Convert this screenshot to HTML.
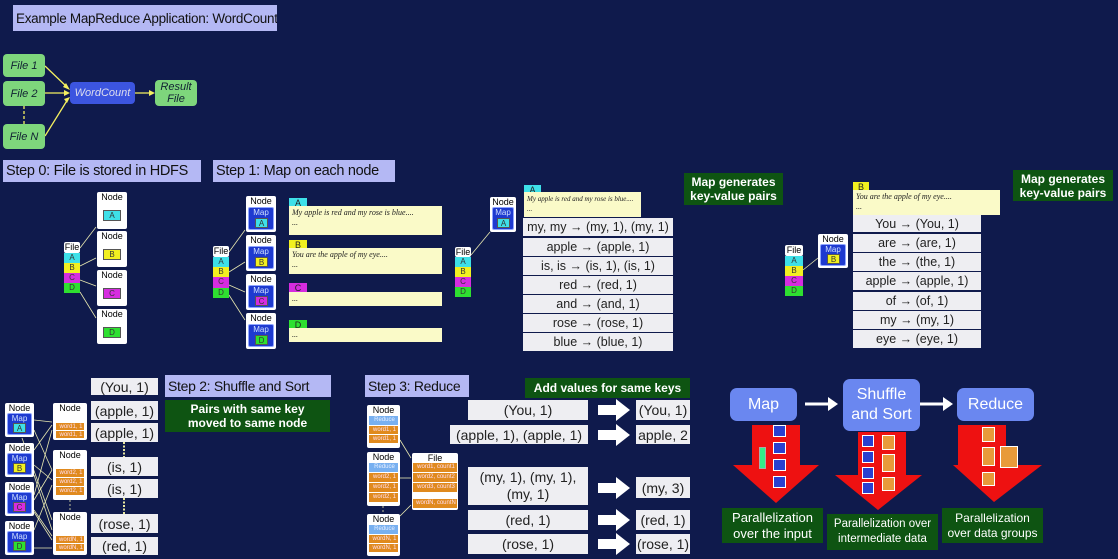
<!DOCTYPE html>
<html><head><meta charset="utf-8">
<style>
body{margin:0;width:1118px;height:559px;background:#0f1a4c;position:relative;overflow:hidden;font-family:"Liberation Sans",sans-serif}
div{position:absolute;box-sizing:border-box}
.lab{background:#b4b8f4;color:#111;font-size:15px;display:flex;align-items:center;padding-left:3px;white-space:nowrap;overflow:hidden;letter-spacing:-0.3px}
.gf{background:#7ed67c;border-radius:4px;font-style:italic;font-size:11px;color:#123;display:flex;align-items:center;justify-content:center;text-align:center;line-height:12px}
.node{background:#fff;border-radius:2px;font-size:9px;text-align:center;color:#000;line-height:10px}
.mapb{background:#1e3ad0;border-radius:2px;color:#cfe0ff;font-size:8px;text-align:center;line-height:9px;border:1px solid #8fa6ff}
.sq{border:1px solid #555;font-size:8px;text-align:center;line-height:10px;color:#333}
.row{background:#eeeef2;color:#222;font-size:12.5px;display:flex;align-items:center;justify-content:center;white-space:nowrap}
.note{background:#fafac8;font-family:"Liberation Serif",serif;font-style:italic;font-size:8px;color:#222;padding:2px 3px;line-height:10px;white-space:nowrap;overflow:hidden}
.tag{font-size:9px;text-align:center;line-height:11px;color:#222}
.green{background:#0e5412;color:#fff;font-weight:bold;font-size:12px;text-align:center;line-height:14px;display:flex;align-items:center;justify-content:center}
.gl{background:#0e5412;color:#fff;font-size:13px;text-align:center;line-height:16px;display:flex;align-items:center;justify-content:center}
.or{background:#e08a1e;color:#fde;font-size:6px;line-height:8px;border-bottom:1px solid #fff;padding-left:2px;white-space:nowrap;overflow:hidden}
.blue{background:#6a87f0;color:#fff;border-radius:7px;font-size:16px;display:flex;align-items:center;justify-content:center;text-align:center;line-height:20px}
.th{background:#fff;border:1px solid #aaa}
.tb{background:#2a40d0;border:1px solid #fff}
.to{background:#e89a3a;border:1px solid #fff}
.A{background:#3ee0e8}.B{background:#f2f020}.C{background:#d62ce0}.D{background:#2ee030}
</style></head><body>
<svg width="1118" height="559" style="position:absolute;left:0;top:0" >
<g stroke="#f4f060" stroke-width="1.3" fill="none">
<line x1="45" y1="66" x2="68" y2="88"/><line x1="45" y1="93" x2="68" y2="93"/><line x1="45" y1="136" x2="68" y2="99"/><line x1="135" y1="93" x2="153" y2="93"/>
<line x1="24" y1="106" x2="24" y2="124" stroke-dasharray="3,2"/>
</g>
<g fill="#f4f060"><polygon points="70,90 63,87 66,83"/><polygon points="70,93 64,90 64,96"/><polygon points="70,97 64,99 67,103"/><polygon points="155,93 149,90 149,96"/></g>
<g stroke="#e8e8b0" stroke-width="0.8" fill="none">
<line x1="80" y1="248" x2="96" y2="227"/><line x1="80" y1="266" x2="96" y2="258"/><line x1="80" y1="280" x2="96" y2="286"/><line x1="80" y1="292" x2="96" y2="318"/>
<line x1="229" y1="252" x2="245" y2="230"/><line x1="229" y1="272" x2="245" y2="262"/><line x1="229" y1="285" x2="245" y2="292"/><line x1="229" y1="295" x2="245" y2="320"/>
<line x1="471" y1="255" x2="490" y2="232"/><line x1="803" y1="270" x2="818" y2="258"/>
<line x1="34" y1="420" x2="52" y2="422"/><line x1="34" y1="510" x2="52" y2="536"/>
<line x1="34" y1="430" x2="52" y2="470"/><line x1="34" y1="450" x2="52" y2="425"/><line x1="34" y1="465" x2="52" y2="480"/><line x1="34" y1="475" x2="52" y2="530"/>
<line x1="34" y1="495" x2="52" y2="430"/><line x1="34" y1="500" x2="52" y2="470"/><line x1="34" y1="512" x2="52" y2="540"/><line x1="34" y1="530" x2="52" y2="485"/>
<line x1="34" y1="548" x2="52" y2="548"/><line x1="22" y1="438" x2="52" y2="520"/>
<line x1="400" y1="440" x2="411" y2="458"/><line x1="400" y1="478" x2="411" y2="478"/><line x1="400" y1="516" x2="411" y2="505"/>
<line x1="124" y1="442" x2="124" y2="457" stroke="#e8e8a0" stroke-width="2" stroke-dasharray="2,1.5"/>
<line x1="124" y1="498" x2="124" y2="514" stroke="#e8e8a0" stroke-width="2" stroke-dasharray="2,1.5"/>
<line x1="70" y1="500" x2="70" y2="512" stroke-dasharray="2,2"/>
<line x1="383" y1="506" x2="383" y2="514" stroke-dasharray="2,2"/>
</g>
<g stroke="#fff" stroke-width="3" fill="none"><line x1="805" y1="404" x2="830" y2="404"/><line x1="920" y1="404" x2="945" y2="404"/></g>
<g fill="#fff"><polygon points="838,404 828,397 828,411"/><polygon points="953,404 943,397 943,411"/>
<polygon points="598,405 616,405 616,399 630,410 616,421 616,415 598,415"/>
<polygon points="598,430 616,430 616,424 630,435 616,446 616,440 598,440"/>
<polygon points="598,483 616,483 616,477 630,488 616,499 616,493 598,493"/>
<polygon points="598,515 616,515 616,509 630,520 616,531 616,525 598,525"/>
<polygon points="598,539 616,539 616,533 630,544 616,555 616,549 598,549"/></g>
<g fill="#ee1111"><polygon points="752,425 800,425 800,465 819,465 776,503 733,465 752,465"/>
<polygon points="858,432 906,432 906,475 922,475 878,510 835,475 858,475"/>
<polygon points="958,425 1006,425 1006,465 1042,465 994,502 953,465 958,465"/></g>
</svg>

<!-- thumbnails in red arrows -->
<div class="tb" style="left:773px;top:425px;width:13px;height:12px"></div>
<div class="tb" style="left:773px;top:442px;width:13px;height:12px"></div>
<div class="tb" style="left:773px;top:459px;width:13px;height:12px"></div>
<div class="tb" style="left:773px;top:476px;width:13px;height:12px"></div>
<div class="th" style="left:759px;top:447px;width:7px;height:22px;background:#3e8"></div>
<div class="tb" style="left:862px;top:435px;width:12px;height:12px"></div>
<div class="tb" style="left:862px;top:451px;width:12px;height:12px"></div>
<div class="tb" style="left:862px;top:467px;width:12px;height:12px"></div>
<div class="tb" style="left:862px;top:482px;width:12px;height:12px"></div>
<div class="to" style="left:882px;top:435px;width:13px;height:15px"></div>
<div class="to" style="left:882px;top:454px;width:13px;height:18px"></div>
<div class="to" style="left:882px;top:477px;width:13px;height:14px"></div>
<div class="to" style="left:982px;top:427px;width:13px;height:15px"></div>
<div class="to" style="left:982px;top:447px;width:13px;height:19px"></div>
<div class="to" style="left:982px;top:472px;width:13px;height:14px"></div>
<div class="to" style="left:1000px;top:446px;width:18px;height:22px"></div>

<div class="lab" style="left:13px;top:5px;width:264px;height:26px;font-size:13.5px">Example MapReduce Application: WordCount</div>
<div class="gf" style="left:3px;top:54px;width:42px;height:23px">File 1</div>
<div class="gf" style="left:3px;top:81px;width:42px;height:25px">File 2</div>
<div class="gf" style="left:3px;top:124px;width:42px;height:25px">File N</div>
<div class="gf" style="left:70px;top:82px;width:65px;height:22px;background:#3c55e0;color:#dde">WordCount</div>
<div class="gf" style="left:155px;top:80px;width:42px;height:26px">Result<br>File</div>

<div class="lab" style="left:3px;top:160px;width:198px;height:22px;font-size:14.5px">Step 0: File is stored in HDFS</div>
<div class="lab" style="left:213px;top:160px;width:182px;height:22px;font-size:14.5px">Step 1: Map on each node</div>

<!-- step0 -->
<div class="node" style="left:64px;top:242px;width:16px;height:11px">File</div>
<div class="sq A" style="left:64px;top:253px;width:16px;height:10px;border:0">A</div>
<div class="sq B" style="left:64px;top:263px;width:16px;height:10px;border:0">B</div>
<div class="sq C" style="left:64px;top:273px;width:16px;height:10px;border:0">C</div>
<div class="sq D" style="left:64px;top:283px;width:16px;height:10px;border:0">D</div>
<div class="node" style="left:97px;top:192px;width:30px;height:37px">Node<div class="sq A" style="left:6px;top:18px;width:18px;height:11px">A</div></div>
<div class="node" style="left:97px;top:231px;width:30px;height:36px">Node<div class="sq B" style="left:6px;top:18px;width:18px;height:11px">B</div></div>
<div class="node" style="left:97px;top:270px;width:30px;height:36px">Node<div class="sq C" style="left:6px;top:18px;width:18px;height:11px">C</div></div>
<div class="node" style="left:97px;top:309px;width:30px;height:35px">Node<div class="sq D" style="left:6px;top:18px;width:18px;height:11px">D</div></div>

<!-- step1 -->
<div class="node" style="left:213px;top:246px;width:16px;height:11px">File</div>
<div class="sq A" style="left:213px;top:257px;width:16px;height:10px;border:0">A</div>
<div class="sq B" style="left:213px;top:267px;width:16px;height:10px;border:0">B</div>
<div class="sq C" style="left:213px;top:277px;width:16px;height:11px;border:0">C</div>
<div class="sq D" style="left:213px;top:288px;width:16px;height:10px;border:0">D</div>
<div class="node" style="left:246px;top:196px;width:30px;height:36px">Node<div class="mapb" style="left:2px;top:11px;width:26px;height:23px">Map<div class="sq A" style="left:6px;top:10px;width:13px;height:10px">A</div></div></div>
<div class="node" style="left:246px;top:235px;width:30px;height:36px">Node<div class="mapb" style="left:2px;top:11px;width:26px;height:23px">Map<div class="sq B" style="left:6px;top:10px;width:13px;height:10px">B</div></div></div>
<div class="node" style="left:246px;top:274px;width:30px;height:36px">Node<div class="mapb" style="left:2px;top:11px;width:26px;height:23px">Map<div class="sq C" style="left:6px;top:10px;width:13px;height:10px">C</div></div></div>
<div class="node" style="left:246px;top:313px;width:30px;height:36px">Node<div class="mapb" style="left:2px;top:11px;width:26px;height:23px">Map<div class="sq D" style="left:6px;top:10px;width:13px;height:10px">D</div></div></div>
<div class="tag A" style="left:289px;top:198px;width:18px;height:11px">A</div>
<div class="note" style="left:289px;top:206px;width:153px;height:29px">My apple is red and my rose is blue....<br>...</div>
<div class="tag B" style="left:289px;top:240px;width:18px;height:11px">B</div>
<div class="note" style="left:289px;top:248px;width:153px;height:26px">You are the apple of my eye....<br>...</div>
<div class="tag C" style="left:289px;top:283px;width:18px;height:10px">C</div>
<div class="note" style="left:289px;top:292px;width:153px;height:14px">...</div>
<div class="tag D" style="left:289px;top:320px;width:18px;height:10px">D</div>
<div class="note" style="left:289px;top:328px;width:153px;height:14px">...</div>

<!-- middle -->
<div class="node" style="left:455px;top:247px;width:16px;height:10px">File</div>
<div class="sq A" style="left:455px;top:257px;width:16px;height:10px;border:0">A</div>
<div class="sq B" style="left:455px;top:267px;width:16px;height:10px;border:0">B</div>
<div class="sq C" style="left:455px;top:277px;width:16px;height:10px;border:0">C</div>
<div class="sq D" style="left:455px;top:287px;width:16px;height:10px;border:0">D</div>
<div class="node" style="left:490px;top:197px;width:26px;height:35px">Node<div class="mapb" style="left:2px;top:10px;width:22px;height:23px">Map<div class="sq A" style="left:4px;top:10px;width:13px;height:10px">A</div></div></div>
<div class="tag A" style="left:524px;top:185px;width:17px;height:11px">A</div>
<div class="note" style="left:524px;top:192px;width:117px;height:25px;font-size:7px">My apple is red and my rose is blue....<br>...</div>
<div class="row" style="left:523px;top:218px;width:150px;height:18px">my, my → (my, 1), (my, 1)</div>
<div class="row" style="left:523px;top:238px;width:150px;height:18px">apple → (apple, 1)</div>
<div class="row" style="left:523px;top:257px;width:150px;height:18px">is, is → (is, 1), (is, 1)</div>
<div class="row" style="left:523px;top:276px;width:150px;height:18px">red → (red, 1)</div>
<div class="row" style="left:523px;top:295px;width:150px;height:18px">and → (and, 1)</div>
<div class="row" style="left:523px;top:314px;width:150px;height:18px">rose → (rose, 1)</div>
<div class="row" style="left:523px;top:333px;width:150px;height:18px">blue → (blue, 1)</div>
<div class="green" style="left:684px;top:173px;width:99px;height:32px">Map generates<br>key-value pairs</div>

<!-- right -->
<div class="node" style="left:785px;top:245px;width:18px;height:11px">File</div>
<div class="sq A" style="left:785px;top:256px;width:18px;height:10px;border:0">A</div>
<div class="sq B" style="left:785px;top:266px;width:18px;height:10px;border:0">B</div>
<div class="sq C" style="left:785px;top:276px;width:18px;height:10px;border:0">C</div>
<div class="sq D" style="left:785px;top:286px;width:18px;height:10px;border:0">D</div>
<div class="node" style="left:818px;top:234px;width:30px;height:34px">Node<div class="mapb" style="left:2px;top:10px;width:26px;height:22px">Map<div class="sq B" style="left:6px;top:9px;width:13px;height:10px">B</div></div></div>
<div class="tag B" style="left:853px;top:182px;width:16px;height:11px">B</div>
<div class="note" style="left:853px;top:190px;width:147px;height:25px">You are the apple of my eye....<br>...</div>
<div class="row" style="left:853px;top:215px;width:128px;height:17px">You → (You, 1)</div>
<div class="row" style="left:853px;top:234px;width:128px;height:18px">are → (are, 1)</div>
<div class="row" style="left:853px;top:253px;width:128px;height:18px">the → (the, 1)</div>
<div class="row" style="left:853px;top:272px;width:128px;height:18px">apple → (apple, 1)</div>
<div class="row" style="left:853px;top:292px;width:128px;height:18px">of → (of, 1)</div>
<div class="row" style="left:853px;top:311px;width:128px;height:18px">my → (my, 1)</div>
<div class="row" style="left:853px;top:330px;width:128px;height:18px">eye → (eye, 1)</div>
<div class="green" style="left:1013px;top:170px;width:100px;height:31px">Map generates<br>key-value pairs</div>

<!-- step2 -->
<div class="lab" style="left:165px;top:375px;width:166px;height:22px;font-size:14px">Step 2: Shuffle and Sort</div>
<div class="green" style="left:165px;top:400px;width:165px;height:32px">Pairs with same key<br>moved to same node</div>
<div class="node" style="left:5px;top:403px;width:29px;height:34px">Node<div class="mapb" style="left:2px;top:10px;width:25px;height:22px">Map<div class="sq A" style="left:5px;top:9px;width:13px;height:10px">A</div></div></div>
<div class="node" style="left:5px;top:443px;width:29px;height:34px">Node<div class="mapb" style="left:2px;top:10px;width:25px;height:22px">Map<div class="sq B" style="left:5px;top:9px;width:13px;height:10px">B</div></div></div>
<div class="node" style="left:5px;top:482px;width:29px;height:34px">Node<div class="mapb" style="left:2px;top:10px;width:25px;height:22px">Map<div class="sq C" style="left:5px;top:9px;width:13px;height:10px">C</div></div></div>
<div class="node" style="left:5px;top:521px;width:29px;height:34px">Node<div class="mapb" style="left:2px;top:10px;width:25px;height:22px">Map<div class="sq D" style="left:5px;top:9px;width:13px;height:10px">D</div></div></div>
<div class="node" style="left:53px;top:403px;width:34px;height:37px">Node<div class="or" style="left:3px;top:20px;width:28px;height:8px">word1, 1</div><div class="or" style="left:3px;top:28px;width:28px;height:8px">word1, 1</div></div>
<div class="node" style="left:53px;top:450px;width:34px;height:50px">Node<div class="or" style="left:3px;top:19px;width:28px;height:9px">word2, 1</div><div class="or" style="left:3px;top:28px;width:28px;height:9px">word2, 1</div><div class="or" style="left:3px;top:37px;width:28px;height:9px">word2, 1</div></div>
<div class="node" style="left:53px;top:512px;width:34px;height:43px">Node<div class="or" style="left:3px;top:24px;width:28px;height:8px">wordN, 1</div><div class="or" style="left:3px;top:32px;width:28px;height:8px">wordN, 1</div></div>
<div class="row" style="left:91px;top:378px;width:67px;height:17px;font-size:14px">(You, 1)</div>
<div class="row" style="left:91px;top:401px;width:67px;height:19px;font-size:14px">(apple, 1)</div>
<div class="row" style="left:91px;top:423px;width:67px;height:19px;font-size:14px">(apple, 1)</div>
<div class="row" style="left:91px;top:457px;width:67px;height:19px;font-size:14px">(is, 1)</div>
<div class="row" style="left:91px;top:479px;width:67px;height:19px;font-size:14px">(is, 1)</div>
<div class="row" style="left:91px;top:514px;width:67px;height:19px;font-size:14px">(rose, 1)</div>
<div class="row" style="left:91px;top:537px;width:67px;height:18px;font-size:14px">(red, 1)</div>

<!-- step3 -->
<div class="lab" style="left:365px;top:375px;width:104px;height:22px;font-size:14px">Step 3: Reduce</div>
<div class="green" style="left:525px;top:378px;width:165px;height:20px">Add values for same keys</div>
<div class="node" style="left:367px;top:405px;width:33px;height:43px">Node<div class="or" style="left:2px;top:11px;width:29px;height:10px;background:#78b0f0;color:#e8f0ff">Reduce</div><div class="or" style="left:2px;top:21px;width:29px;height:9px">word1, 1</div><div class="or" style="left:2px;top:30px;width:29px;height:9px">word1, 1</div></div>
<div class="node" style="left:367px;top:452px;width:33px;height:54px">Node<div class="or" style="left:2px;top:11px;width:29px;height:10px;background:#78b0f0;color:#e8f0ff">Reduce</div><div class="or" style="left:2px;top:21px;width:29px;height:10px">word2, 1</div><div class="or" style="left:2px;top:31px;width:29px;height:10px">word2, 1</div><div class="or" style="left:2px;top:41px;width:29px;height:10px">word2, 1</div></div>
<div class="node" style="left:367px;top:514px;width:33px;height:42px">Node<div class="or" style="left:2px;top:11px;width:29px;height:10px;background:#78b0f0;color:#e8f0ff">Reduce</div><div class="or" style="left:2px;top:21px;width:29px;height:9px">wordN, 1</div><div class="or" style="left:2px;top:30px;width:29px;height:9px">wordN, 1</div></div>
<div class="node" style="left:412px;top:453px;width:46px;height:57px">File<div class="or" style="left:1px;top:10px;width:44px;height:10px">word1, count1</div><div class="or" style="left:1px;top:20px;width:44px;height:10px">word2, count2</div><div class="or" style="left:1px;top:30px;width:44px;height:10px">word3, count3</div><div class="or" style="left:1px;top:46px;width:44px;height:10px">wordN, countN</div></div>
<div class="row" style="left:468px;top:400px;width:120px;height:20px;font-size:14px">(You, 1)</div>
<div class="row" style="left:450px;top:425px;width:138px;height:19px;font-size:14px">(apple, 1), (apple, 1)</div>
<div class="row" style="left:468px;top:467px;width:120px;height:38px;font-size:14px;text-align:center;line-height:17px">(my, 1), (my, 1),<br>(my, 1)</div>
<div class="row" style="left:468px;top:510px;width:120px;height:20px;font-size:14px">(red, 1)</div>
<div class="row" style="left:468px;top:534px;width:120px;height:20px;font-size:14px">(rose, 1)</div>
<div class="row" style="left:636px;top:400px;width:54px;height:20px;font-size:14px">(You, 1)</div>
<div class="row" style="left:636px;top:425px;width:54px;height:19px;font-size:14px;overflow:hidden">apple, 2</div>
<div class="row" style="left:636px;top:477px;width:54px;height:21px;font-size:14px">(my, 3)</div>
<div class="row" style="left:636px;top:510px;width:54px;height:20px;font-size:14px">(red, 1)</div>
<div class="row" style="left:636px;top:534px;width:54px;height:20px;font-size:14px">(rose, 1)</div>

<!-- summary -->
<div class="blue" style="left:730px;top:388px;width:67px;height:33px">Map</div>
<div class="blue" style="left:843px;top:379px;width:77px;height:52px">Shuffle<br>and Sort</div>
<div class="blue" style="left:957px;top:388px;width:77px;height:33px">Reduce</div>
<div class="gl" style="left:722px;top:508px;width:101px;height:35px">Parallelization<br>over the input</div>
<div class="gl" style="left:827px;top:514px;width:111px;height:36px;font-size:11.5px;line-height:15px">Parallelization over<br>intermediate data</div>
<div class="gl" style="left:942px;top:508px;width:101px;height:35px;font-size:12px;line-height:15px">Parallelization<br>over data groups</div>
</body></html>
